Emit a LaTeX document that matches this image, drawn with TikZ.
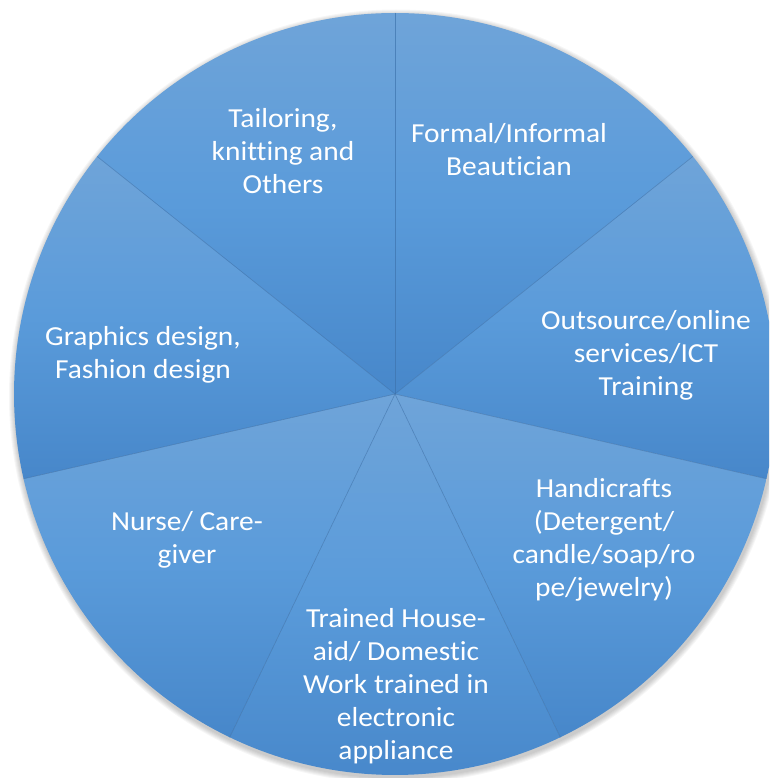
\documentclass[tikz,border=0pt]{standalone}
\usepackage{fontspec}
\setmainfont{Carlito}[FakeStretch=1.07,Ligatures={NoCommon,NoContextual}]
\usetikzlibrary{calc}
\definecolor{ptop}{HTML}{6FA4D9}
\definecolor{pmid}{HTML}{5A9BDA}
\definecolor{pbot}{HTML}{4787CA}
\definecolor{pedge}{HTML}{3E74AE}
\tikzset{
  slice/.style={top color=ptop, bottom color=pbot, middle color=pmid},
  edgeline/.style={draw=pedge, line width=0.6pt, opacity=0.7},
  lbl/.style={text=white, align=center, font=\fontsize{27.5}{33}\selectfont, inner sep=0pt}
}
\begin{document}
\begin{tikzpicture}[x=1pt,y=1pt]
\useasboundingbox (0,0) rectangle (769,-778);
\clip (0,0) rectangle (769,-778);
\fill[white] (0,0) rectangle (769,-778);
\coordinate (c) at (395,-394);
% soft shadow
\foreach \i in {1,...,6}
  \fill[black,opacity=0.035] ($(c)+(1,-2.5)$) circle ({381pt+\i pt});
% slices
\foreach \a in {90,38.5714,-12.8571,-64.2857,-115.7143,-167.1429,141.4286} {
  \shade[slice] (c) -- ++(\a:381pt) arc[start angle=\a, end angle=\a-51.4286, radius=381pt] -- cycle;
}
% slice edges
\foreach \a [count=\k] in {90,38.5714,-12.8571,-64.2857,-115.7143,-167.1429,141.4286} {
  \coordinate (e\k) at ($(c)+(\a:381pt)$);
  \draw[edgeline] (c) -- (e\k);
}
% labels
\node[lbl] (tail) at (283,-151) {Tailoring,\\knitting and\\Others};
\node[lbl] (formal) at (509,-150) {Formal/Informal\\Beautician};
\node[lbl] (outs) at (646,-355) {Outsource/online\\services/ICT\\Training};
\node[lbl] (handi) at (604,-540) {Handicrafts\\(Detergent/\\candle/soap/ro\\pe/jewelry)};
\node[lbl] (house) at (396,-686) {Trained House-\\aid/ Domestic\\Work trained in\\electronic\\appliance};
\node[lbl] (nurse) at (187,-540) {Nurse/ Care-\\giver};
\node[lbl] (graph) at (143,-355) {Graphics design,\\Fashion design};
\end{tikzpicture}
\end{document}
